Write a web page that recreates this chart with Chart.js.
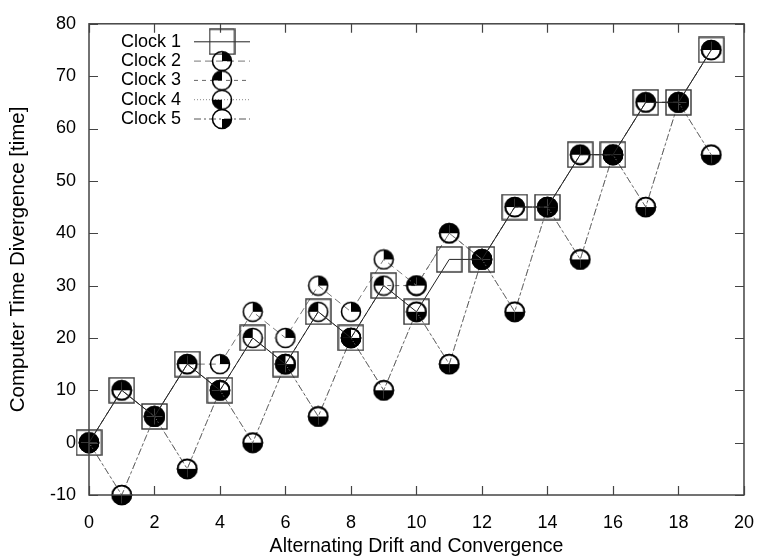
<!DOCTYPE html>
<html>
<head>
<meta charset="utf-8">
<script src="https://cdn.jsdelivr.net/npm/chart.js@4.4.0/dist/chart.umd.min.js"></script>
<style>
  html, body { margin: 0; padding: 0; background: #fff; }
  #wrap { width: 771px; height: 556px; }
</style>
</head>
<body>
<div id="wrap"><canvas id="clock-chart" width="771" height="556"></canvas></div>
<script>
// steps along the x axis
var steps = [0, 1, 2, 3, 4, 5, 6, 7, 8, 9, 10, 11, 12, 13, 14, 15, 16, 17, 18, 19];
var xTicks = [0, 2, 4, 6, 8, 10, 12, 14, 16, 18, 20];
var yTicks = [-10, 0, 10, 20, 30, 40, 50, 60, 70, 80];

// clock values
var clock1 = [0, 10, 5, 15, 10, 20, 15, 25, 20, 30, 25, 35, 35, 45, 45, 55, 55, 65, 65, 75];
var clock2 = [0, 10, 5, 15, 15, 25, 20, 30, 25, 35, 30, 40, 35, 45, 45, 55, 55, 65, 65, 75];
var clock3 = [0, 10, 5, 15, 10, 20, 15, 25, 20, 30, 30, 40, 35, 45, 45, 55, 55, 65, 65, 75];
var clock4 = [0, -10, 5, -5, 10, 0, 15, 5, 20, 10, 25, 15, 35, 25, 45, 35, 55, 45, 65, 55];
var clock5 = [0, -10, 5, -5, 10, 0, 15, 5, 20, 10, 25, 15, 35, 25, 45, 35, 55, 45, 65, 55];

var FONT = "'Liberation Sans', Arial, sans-serif";

function toPoints(vals) {
    return steps.map(function(s, i) { return { x: s, y: vals[i] }; });
}

// square marker for clock 1
function squareMarker() {
    var c = document.createElement('canvas');
    c.width = 27; c.height = 27;
    var g = c.getContext('2d');
    g.strokeStyle = '#333';
    g.lineWidth = 1.4;
    g.strokeRect(1, 1, 25, 25);
    return c;
}

// circle with one filled quarter (start/end angles)
function quarterMarker(a0, a1) {
    var c = document.createElement('canvas');
    c.width = 22; c.height = 22;
    var g = c.getContext('2d');
    g.fillStyle = '#000';
    g.beginPath();
    g.moveTo(11, 11);
    g.arc(11, 11, 9.5, a0, a1);
    g.closePath();
    g.fill();
    g.strokeStyle = '#000';
    g.lineWidth = 1.6;
    g.beginPath();
    g.arc(11, 11, 9.5, 0, Math.PI * 2);
    g.stroke();
    return c;
}

var P = Math.PI;
var markers = [
    squareMarker(),
    quarterMarker(-P / 2, 0),       // top right
    quarterMarker(P, 3 * P / 2),    // top left
    quarterMarker(P / 2, P),        // bottom left
    quarterMarker(0, P / 2)         // bottom right
];

var datasets = [
    { label: 'Clock 1', data: toPoints(clock1), borderColor: '#222', borderDash: [] },
    { label: 'Clock 2', data: toPoints(clock2), borderColor: '#777', borderDash: [7, 4] },
    { label: 'Clock 3', data: toPoints(clock3), borderColor: '#666', borderDash: [4, 4] },
    { label: 'Clock 4', data: toPoints(clock4), borderColor: '#888', borderDash: [1, 2] },
    { label: 'Clock 5', data: toPoints(clock5), borderColor: '#555', borderDash: [7, 3, 2, 3] }
].map(function(d, i) {
    d.borderWidth = 1;
    d.pointStyle = markers[i];
    d.pointRadius = 10;
    d.fill = false;
    d.tension = 0;
    d.clip = false;
    return d;
});

// inward ticks, frame and gnuplot style key
var framePlugin = {
    id: 'frame',
    afterDraw: function(chart) {
        var ctx = chart.ctx, a = chart.chartArea;
        var x = chart.scales.x, y = chart.scales.y;
        ctx.save();
        ctx.strokeStyle = '#444';
        ctx.lineWidth = 1.5;
        ctx.strokeRect(a.left, a.top, a.right - a.left, a.bottom - a.top);
        ctx.lineWidth = 1.2;
        ctx.beginPath();
        xTicks.forEach(function(v) {
            var px = Math.round(x.getPixelForValue(v)) + 0.5;
            ctx.moveTo(px, a.bottom); ctx.lineTo(px, a.bottom - 9);
            ctx.moveTo(px, a.top); ctx.lineTo(px, a.top + 9);
        });
        yTicks.forEach(function(v) {
            var py = Math.round(y.getPixelForValue(v)) + 0.5;
            ctx.moveTo(a.left, py); ctx.lineTo(a.left + 9, py);
            ctx.moveTo(a.right, py); ctx.lineTo(a.right - 9, py);
        });
        ctx.stroke();

        // key
        ctx.font = '18px ' + FONT;
        ctx.textAlign = 'right';
        ctx.textBaseline = 'middle';
        chart.data.datasets.forEach(function(ds, i) {
            var ry = a.top + 18 + i * 19.3;
            ctx.fillStyle = '#000';
            ctx.fillText(ds.label, a.left + 92, ry);
            ctx.strokeStyle = ds.borderColor;
            ctx.lineWidth = 1;
            ctx.setLineDash(ds.borderDash);
            ctx.beginPath();
            ctx.moveTo(a.left + 105, ry);
            ctx.lineTo(a.left + 161, ry);
            ctx.stroke();
            ctx.setLineDash([]);
            var m = ds.pointStyle;
            ctx.drawImage(m, a.left + 133 - m.width / 2, ry - m.height / 2);
        });
        ctx.restore();
    }
};

var ctxClock = document.getElementById('clock-chart').getContext('2d');
new Chart(ctxClock, {
    type: 'line',
    data: { datasets: datasets },
    options: {
        responsive: false,
        animation: false,
        layout: { padding: { top: 17, right: 15, left: 0, bottom: 0 } },
        plugins: { legend: { display: false }, tooltip: { enabled: false } },
        scales: {
            x: {
                type: 'linear',
                min: 0, max: 20,
                grid: { display: false, drawTicks: false },
                border: { display: false },
                afterFit: function(s) { s.height = 61; },
                afterBuildTicks: function(s) { s.ticks = xTicks.map(function(v) { return { value: v }; }); },
                ticks: { color: '#000', padding: 17, maxRotation: 0, font: { family: FONT, size: 18 } },
                title: { display: true, text: 'Alternating Drift and Convergence', color: '#000',
                         padding: { top: 0, bottom: -2 }, font: { family: FONT, size: 19.5 } }
            },
            y: {
                min: -10, max: 80,
                grid: { display: false, drawTicks: false },
                border: { display: false },
                afterFit: function(s) { s.width = 89; },
                afterBuildTicks: function(s) { s.ticks = yTicks.map(function(v) { return { value: v }; }); },
                ticks: { color: '#000', padding: 13, font: { family: FONT, size: 18 } },
                title: { display: true, text: 'Computer Time Divergence [time]', color: '#000',
                         padding: { top: 6, bottom: 0 }, font: { family: FONT, size: 20.5 } }
            }
        }
    },
    plugins: [framePlugin]
});
</script>
</body>
</html>
